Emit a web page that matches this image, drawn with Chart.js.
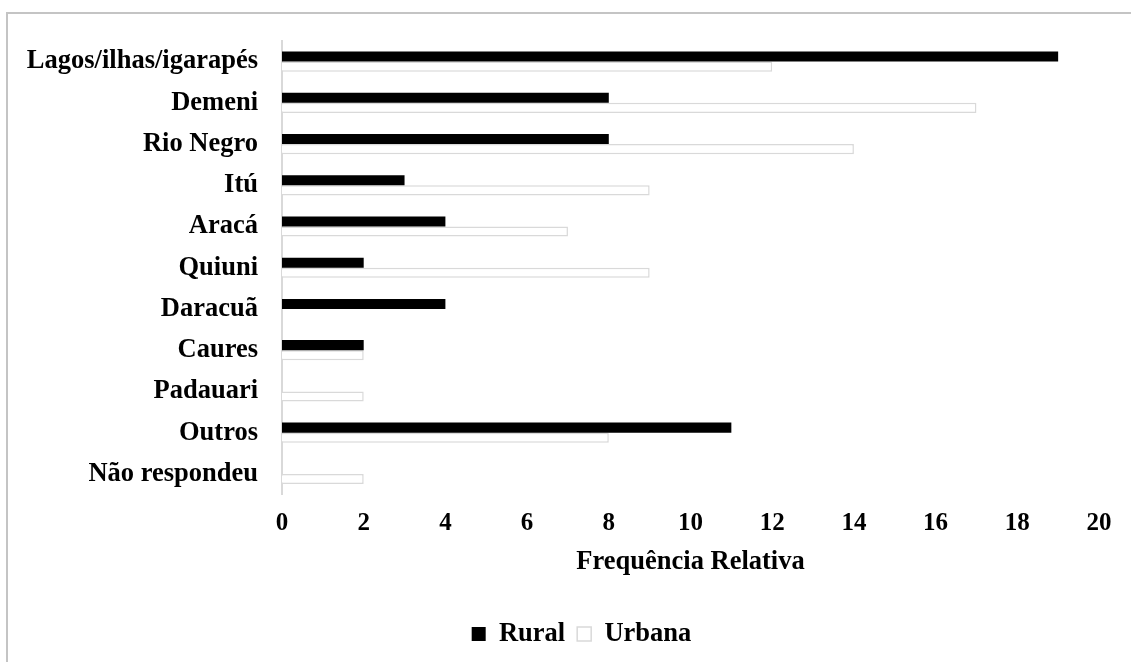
<!DOCTYPE html>
<html>
<head>
<meta charset="utf-8">
<script src="https://cdn.jsdelivr.net/npm/chart.js@4.4.1/dist/chart.umd.min.js"></script>
<style>
  html, body { margin: 0; padding: 0; background: #fff; }
  #frame {
    position: absolute; left: 6px; top: 12px; width: 1200px; height: 700px;
    border-left: 2px solid #c4c4c4; border-top: 2px solid #c4c4c4;
  }
  #wrap { position: absolute; left: 0; top: 0; width: 1131px; height: 662px; }
</style>
</head>
<body>
<div id="frame"></div>
<div id="wrap"><canvas id="c" width="1131" height="662"></canvas></div>
<script>
const categories = [
  'Lagos/ilhas/igarapés', 'Demeni', 'Rio Negro', 'Itú', 'Aracá', 'Quiuni',
  'Daracuã', 'Caures', 'Padauari', 'Outros', 'Não respondeu'
];
const rural  = [19, 8, 8, 3, 4, 2, 4, 2, 0, 11, 0];
const urbana = [12, 17, 14, 9, 7, 9, 0, 2, 2, 8, 2];
const xTicks = [0, 2, 4, 6, 8, 10, 12, 14, 16, 18, 20];

const FONT = '"Liberation Serif", "Times New Roman", serif';

// Nudge the bottom legend to the right of the canvas centre.
const legendShift = {
  id: 'legendShift',
  afterLayout(chart) {
    const lg = chart.legend;
    if (lg) { lg.left += 24; lg.right += 24; }
  }
};

new Chart(document.getElementById('c'), {
  type: 'bar',
  data: {
    labels: categories,
    datasets: [
      { label: 'Rural', data: rural, backgroundColor: '#000000', borderColor: '#000000', borderWidth: 0 },
      { label: 'Urbana', data: urbana, backgroundColor: '#ffffff', borderColor: '#d9d9d9', borderWidth: 1.5 }
    ]
  },
  plugins: [legendShift],
  options: {
    indexAxis: 'y',
    responsive: false,
    animation: false,
    devicePixelRatio: 1,
    layout: { padding: { left: 16, right: 32, top: 41, bottom: 4.75 } },
    datasets: { bar: { barPercentage: 1, categoryPercentage: 0.49 } },
    scales: {
      x: {
        min: 0, max: 20,
        afterBuildTicks: s => { s.ticks = xTicks.map(v => ({ value: v })); },
        afterFit: s => { s.height = 114.25; },
        grid: { display: false, drawTicks: false },
        border: { display: false },
        ticks: { color: '#000', padding: 14, font: { family: FONT, size: 25, weight: 'bold' } },
        title: {
          display: true, text: 'Frequência Relativa', color: '#000',
          font: { family: FONT, size: 26.5, weight: 'bold' }, padding: { top: 0, bottom: 31 }
        }
      },
      y: {
        afterFit: s => { s.width = 266; },
        grid: { display: false, drawTicks: false },
        border: { display: true, color: '#d9d9d9', width: 2 },
        ticks: { color: '#000', padding: 24, font: { family: FONT, size: 26.5, weight: 'bold' } }
      }
    },
    plugins: {
      legend: {
        position: 'bottom',
        labels: {
          color: '#000', boxWidth: 14, boxHeight: 14, padding: 12,
          font: { family: FONT, size: 26.5, weight: 'bold' }
        }
      },
      tooltip: { enabled: false }
    }
  }
});
</script>
</body>
</html>
